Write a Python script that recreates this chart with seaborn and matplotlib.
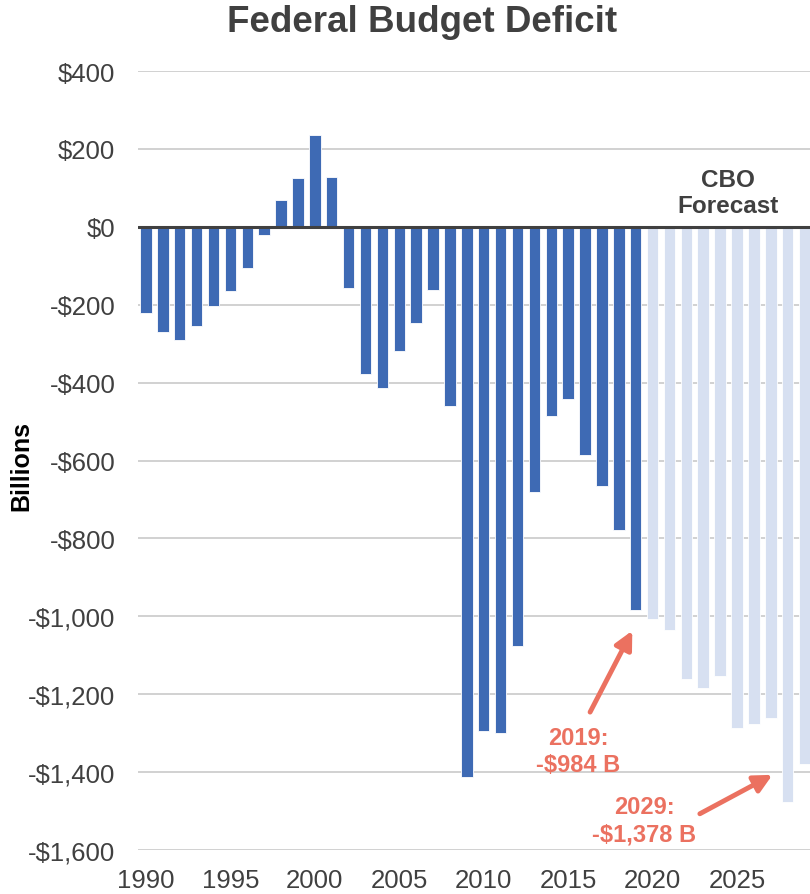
import matplotlib
matplotlib.use("Agg")
import matplotlib.pyplot as plt
import seaborn as sns
import pandas as pd

# Federal surplus (+) / deficit (-), billions of dollars
actual_years = list(range(1990, 2020))
actual_values = [-221, -269, -290, -255, -203, -164, -107, -22, 69, 126,
                 236, 128, -158, -378, -413, -318, -248, -161, -459, -1413,
                 -1294, -1300, -1077, -680, -485, -442, -585, -665, -779, -984]

forecast_years = list(range(2020, 2030))
forecast_values = [-1008, -1034, -1160, -1184, -1152, -1286, -1276, -1260, -1478, -1378]

tick_years = [1990, 1995, 2000, 2005, 2010, 2015, 2020, 2025]
y_ticks = [400, 200, 0, -200, -400, -600, -800, -1000, -1200, -1400, -1600]

df = pd.DataFrame({
    "year": actual_years + forecast_years,
    "deficit": actual_values + forecast_values,
    "kind": ["Actual"] * len(actual_years) + ["CBO Forecast"] * len(forecast_years),
})

sns.set_theme(style="white")
plt.rcParams["font.family"] = ["Liberation Sans", "DejaVu Sans"]

text_color = "#404040"
dark_blue = "#3E6AB4"
light_blue = "#D7E0F1"
coral = "#EB7160"

fig = plt.figure(figsize=(8.1, 8.95), dpi=100)
ax = fig.add_axes([137.5 / 810, 44 / 895, 675.5 / 810, 779 / 895])

sns.barplot(data=df, x="year", y="deficit", hue="kind",
            palette={"Actual": dark_blue, "CBO Forecast": light_blue},
            saturation=1, width=0.68, dodge=False, legend=False, ax=ax,
            edgecolor="white", linewidth=0.6)

ax.set_ylim(-1600, 400)
ax.set_xlim(-0.5, len(df) - 0.5)
ax.set_yticks(y_ticks)
ax.set_yticklabels([("-$" if v < 0 else "$") + f"{abs(v):,}" for v in y_ticks],
                   fontsize=18.5, color=text_color)

years = df["year"].tolist()
ax.set_xticks([years.index(y) for y in tick_years])
ax.set_xticklabels([str(y) for y in tick_years], fontsize=18.5, color=text_color)
ax.tick_params(axis="both", length=0)
ax.tick_params(axis="y", pad=16)
ax.tick_params(axis="x", pad=13)

for v in y_ticks:
    if v != 0:
        ax.axhline(v, color="#C9C9C9", linewidth=1.2, zorder=0)
ax.axhline(0, color="#404040", linewidth=2.2, zorder=3)

for s in ax.spines.values():
    s.set_visible(False)

ax.set_xlabel("")
ax.set_ylabel("Billions", fontsize=18, fontweight="bold", color="black", labelpad=0)
ax.yaxis.set_label_coords(-(137.5 - 33) / 675.5, (851 - 466) / 779)

fig.text(422 / 810, 1 - 22 / 895, "Federal Budget Deficit", ha="center", va="center",
         fontsize=26.5, fontweight="bold", color=text_color)

ax.text(years.index(2025) - 0.55, 88, "CBO\nForecast", ha="center", va="center",
        fontsize=17.5, fontweight="bold", color=text_color, linespacing=1.15)

# Callouts for the last actual year and the last forecast year
i2019 = years.index(2019)
i2029 = years.index(2029)
ax.annotate("", xy=(i2019 - 0.2, -1037), xytext=(i2019 - 2.7, -1246),
            arrowprops=dict(arrowstyle="-|>,head_length=0.9,head_width=0.45",
                            color=coral, lw=3.5, shrinkA=0, shrinkB=0))
ax.text(i2019 - 3.4, -1346, "2019:\n-$984 B", ha="center", va="center",
        fontsize=17, fontweight="bold", color=coral, linespacing=1.25)

ax.annotate("", xy=(i2029 - 1.9, -1407), xytext=(i2029 - 6.2, -1507),
            arrowprops=dict(arrowstyle="-|>,head_length=0.9,head_width=0.45",
                            color=coral, lw=3.5, shrinkA=0, shrinkB=0))
ax.text(i2029 - 9.5, -1523, "2029:\n-$1,378 B", ha="center", va="center",
        fontsize=17, fontweight="bold", color=coral, linespacing=1.25)

fig.savefig("out.png", dpi=100)
